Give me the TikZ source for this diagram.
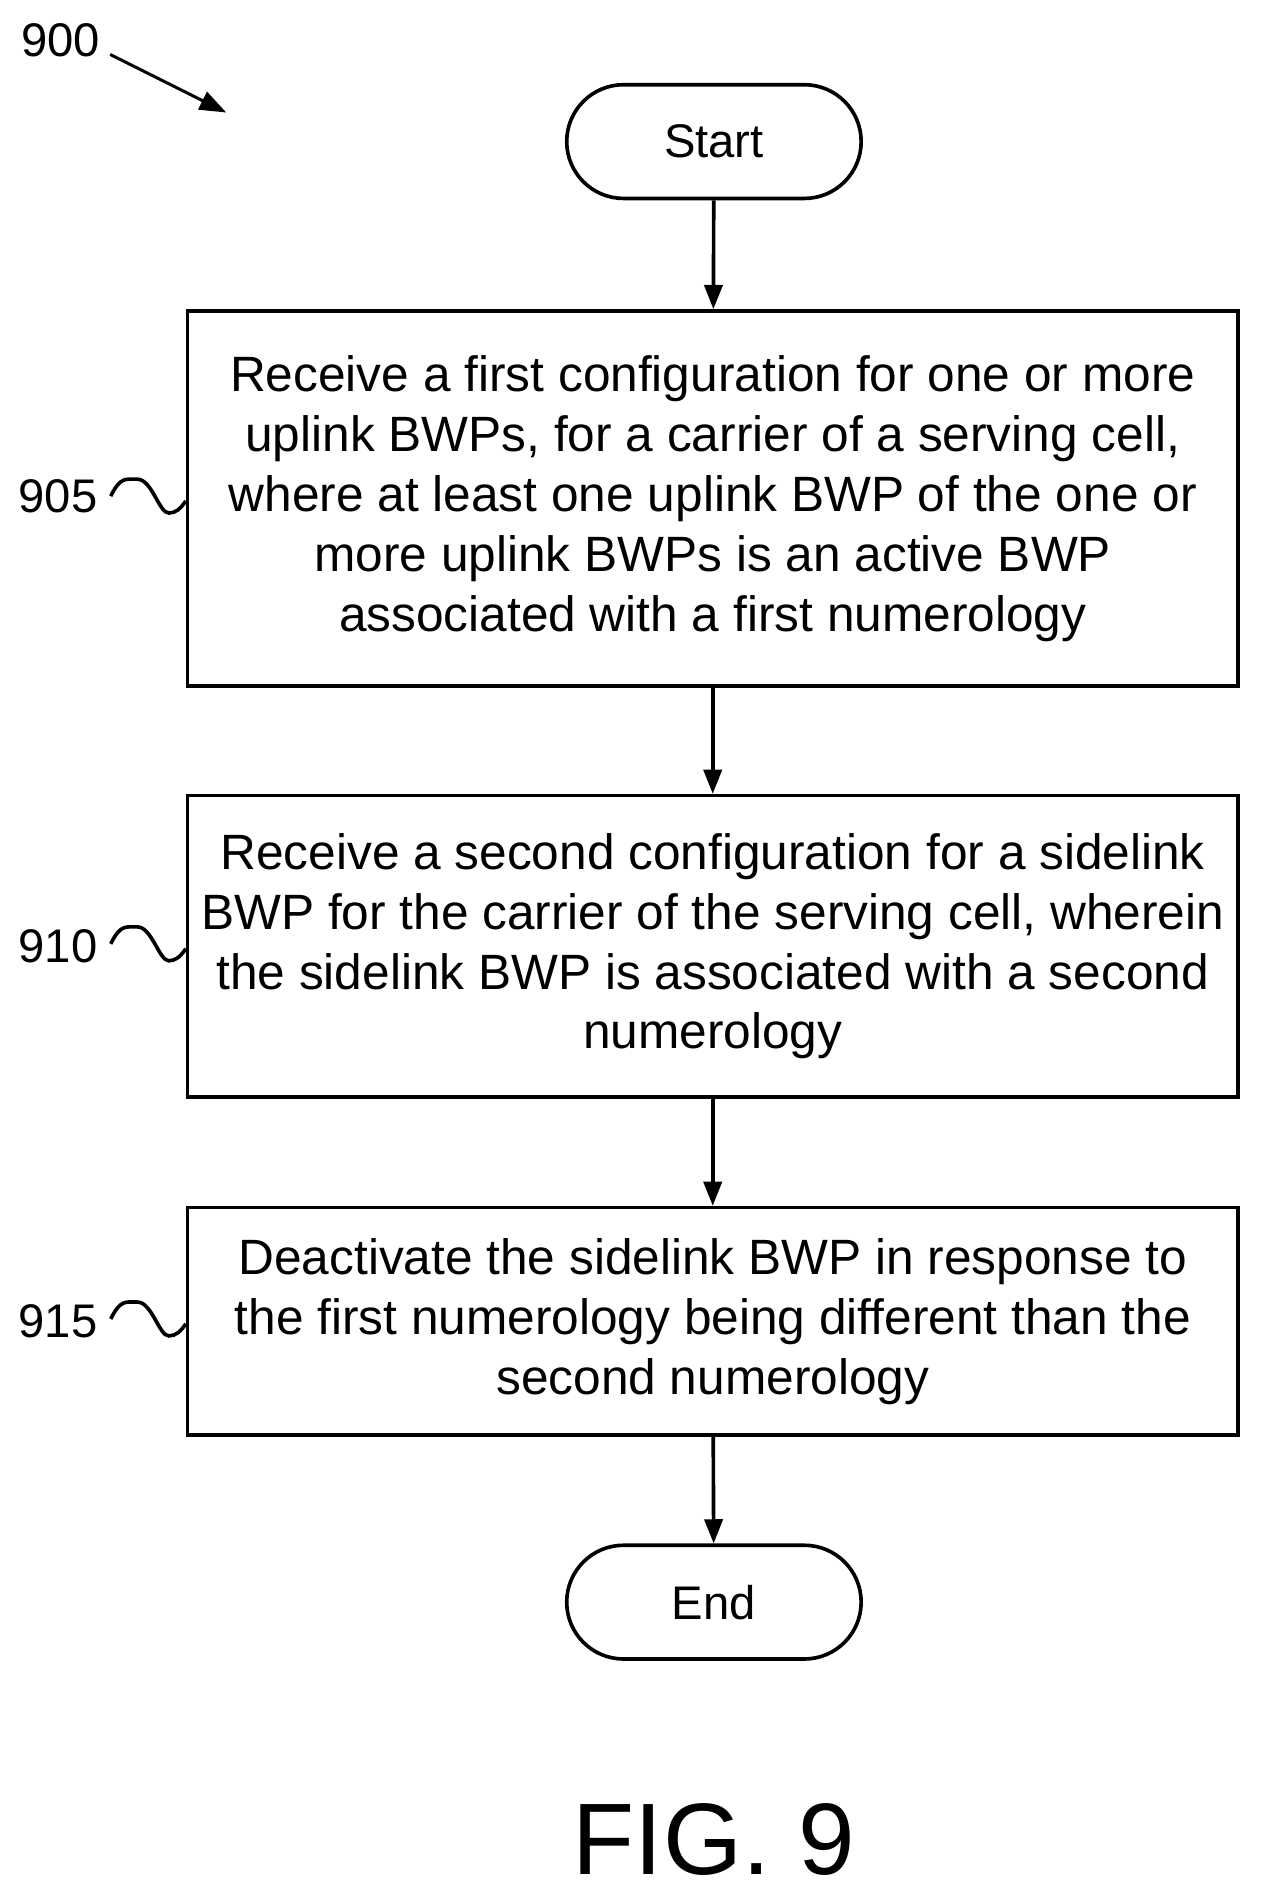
\documentclass[tikz,border=0pt]{standalone}
\usepackage{fontspec}
\setmainfont{Liberation Sans}
\usetikzlibrary{positioning,arrows.meta,shapes.misc}

\tikzset{
  stepbox/.style={draw, line width=3pt, minimum width=868pt, align=center, font=\fontsize{41}{49.5}\selectfont, inner sep=0pt},
  term/.style={draw, line width=3pt, rounded rectangle, minimum width=250pt, minimum height=94pt, font=\fontsize{39}{46}\selectfont},
  flow/.style={line width=3pt, -{Triangle[length=20pt,width=15pt]}},
  refnum/.style={font=\fontsize{39}{46}\selectfont}
}
\newcommand{\squig}[1]{%
  \draw[line width=3pt] (#1) ++(-62pt,2pt) .. controls +(8pt,16pt) and +(-10pt,0pt) .. ++(22pt,14pt)
     .. controls +(12pt,0pt) and +(-8pt,0pt) .. ++(26pt,-28pt)
     .. controls +(6pt,0pt) and +(-4pt,-6pt) .. ++(14pt,10pt);}

\begin{document}
\begin{tikzpicture}[x=1pt,y=-1pt]
  \useasboundingbox (0,0) rectangle (1045,1571);
  % terminals and steps
  \node[term] (start) at (590,117) {Start};
  \node[stepbox, minimum height=310pt] (s905) at (589,412) {Receive a first configuration for one or more\\uplink BWPs, for a carrier of a serving cell,\\where at least one uplink BWP of the one or\\more uplink BWPs is an active BWP\\associated with a first numerology};
  \node[stepbox, minimum height=249pt] (s910) at (589,782) {Receive a second configuration for a sidelink\\BWP for the carrier of the serving cell, wherein\\the sidelink BWP is associated with a second\\numerology};
  \node[stepbox, minimum height=188pt] (s915) at (589,1092) {Deactivate the sidelink BWP in response to\\the first numerology being different than the\\second numerology};
  \node[term] (end) at (590,1324) {End};
  % connectors
  \draw[flow] (start) -- (s905);
  \draw[flow] (s905) -- (s910);
  \draw[flow] (s910) -- (s915);
  \draw[flow] (s915) -- (end);
  % reference numerals
  \node[refnum] (n900) at (50,33) {900};
  \coordinate (p900) at (187,93);
  \draw[line width=2.5pt, -{Triangle[length=22pt,width=16pt]}] (n900.east) ++(5,12) -- (p900);
  \node[refnum] (n905) at (48,410) {905};
  \node[refnum] (n910) at (48,782) {910};
  \node[refnum] (n915) at (48,1092) {915};
  \squig{s905.west}
  \squig{s910.west}
  \squig{s915.west}
  \node[font=\fontsize{84}{100}\selectfont] (fig) at (590,1520) {FIG. 9};
\end{tikzpicture}
\end{document}
